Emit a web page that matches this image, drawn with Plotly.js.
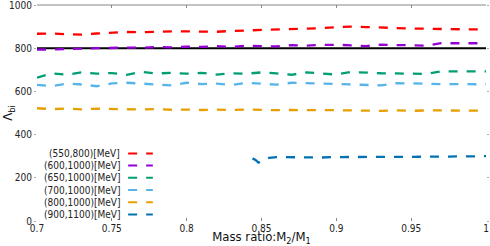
<!DOCTYPE html>
<html><head><meta charset="utf-8">
<script src="https://cdn.plot.ly/plotly-3.0.1.min.js"></script>
<style>html,body{margin:0;padding:0;background:#fff;}#chart{width:490px;height:246px;}</style>
</head><body><div id="chart"></div>
<script>
const massRatio = [0.70,0.71,0.72,0.73,0.74,0.75,0.76,0.77,0.78,0.79,0.80,0.81,0.82,0.83,0.84,0.85,0.86,0.87,0.88,0.89,0.90,0.91,0.92,0.93,0.94,0.95,0.96,0.97,0.98,0.99,1.00];
const lam550_800  = [867,868,865,863,868,873,875,874,877,878,878,878,876,880,882,884,885,887,890,893,897,900,898,895,893,891,890,888,888,887,887];
const lam600_1000 = [793,795,798,800,801,802,803,802,805,804,807,806,810,806,812,810,808,814,812,815,816,813,810,816,815,815,812,823,823,823,823];
const lam650_1000 = [664,683,678,688,682,685,677,690,683,686,682,686,678,684,682,688,683,677,688,684,678,690,686,684,683,682,681,693,693,693,693];
const lam700_1000 = [630,625,636,632,624,637,640,636,630,628,640,634,636,630,640,634,631,640,638,634,634,632,627,628,638,638,636,634,634,633,633];
const lam800_1000 = [522,518,521,517,520,518,519,516,518,515,516,514,516,514,516,514,513,514,512,513,513,511,512,510,512,510,512,511,511,511,511];
const massRatio900 = [0.844,0.846,0.848,0.852,0.855,0.86,0.87,0.88,0.89,0.90,0.91,0.92,0.93,0.94,0.95,0.96,0.97,0.98,0.99,1.00];
const lam900_1100  = [290,283,270,282,292,296,295,296,294,296,297,296,298,297,297,298,298,299,300,300];
const refLine = 800;
const seriesNames = ["(550,800)[MeV]","(600,1000)[MeV]","(650,1000)[MeV]","(700,1000)[MeV]","(800,1000)[MeV]","(900,1100)[MeV]"];
const seriesColors = ["#ff0000","#9400d3","#009e73","#56b4e9","#e69f00","#0072b2"];
const xTicks = [0.7,0.75,0.8,0.85,0.9,0.95,1];
const xTickText = ["0.7","0.75","0.8","0.85","0.9","0.95","1"];
const yTicks = [0,200,400,600,800,1000];

const xs = [massRatio,massRatio,massRatio,massRatio,massRatio,massRatio900];
const ys = [lam550_800,lam600_1000,lam650_1000,lam700_1000,lam800_1000,lam900_1100];
const FONT = "'DejaVu Sans Condensed','DejaVu Sans',sans-serif";

const traces = [{x:[massRatio[0],massRatio[massRatio.length-1]], y:[refLine,refLine], mode:'lines',
  line:{color:'#000',width:2}, showlegend:false, hoverinfo:'skip'}];
for (let i=0;i<6;i++){
  traces.push({x:xs[i], y:ys[i], mode:'lines', name:seriesNames[i],
    line:{color:seriesColors[i], width:2.3, dash:'dash', shape:'linear'}, showlegend:false});
}

const annotations=[], shapes=[];
shapes.push({type:'line', xref:'paper', yref:'paper', x0:0, x1:1, y0:1, y1:1, line:{color:'#888',width:1}});
const rowTop = 0.313, rowStep = 0.0565;
for (let i=0;i<6;i++){
  const yy = rowTop - i*rowStep;
  annotations.push({xref:'paper', yref:'paper', x:0.19, y:yy, xanchor:'right', yanchor:'middle',
    text:seriesNames[i], showarrow:false, font:{family:FONT,size:10,color:'#222'}});
  shapes.push({type:'line', xref:'paper', yref:'paper', x0:0.203, x1:0.258, y0:yy, y1:yy,
    line:{color:seriesColors[i], width:2, dash:'dash'}});
}

const layout = {
  width:490, height:246,
  margin:{l:37, r:4, t:5, b:25},
  paper_bgcolor:'#fff', plot_bgcolor:'#fff',
  showlegend:false,
  font:{family:FONT, size:10, color:'#222'},
  xaxis:{range:[0.7,1], tickvals:xTicks, ticktext:xTickText, showgrid:false, zeroline:false,
    showline:false, ticks:'inside', ticklen:3, tickcolor:'#888', mirror:'ticks',
    tickfont:{family:FONT,size:10,color:'#222'},
    title:{text:'Mass ratio:M<sub>2</sub>/M<sub>1</sub>', font:{family:FONT,size:13,color:'#111'}, standoff:2}},
  yaxis:{range:[0,1000], tickvals:yTicks, showgrid:false, zeroline:false, showline:false,
    ticks:'outside', ticklen:2, tickcolor:'#aaa', mirror:'ticks', ticklabeloverflow:'allow',
    tickfont:{family:FONT,size:10,color:'#222'},
    title:{text:'Λ<sub>bi</sub>', font:{family:FONT,size:13,color:'#111'}, standoff:4}},
  annotations, shapes
};
Plotly.newPlot('chart', traces, layout, {staticPlot:true, displayModeBar:false});
</script></body></html>
